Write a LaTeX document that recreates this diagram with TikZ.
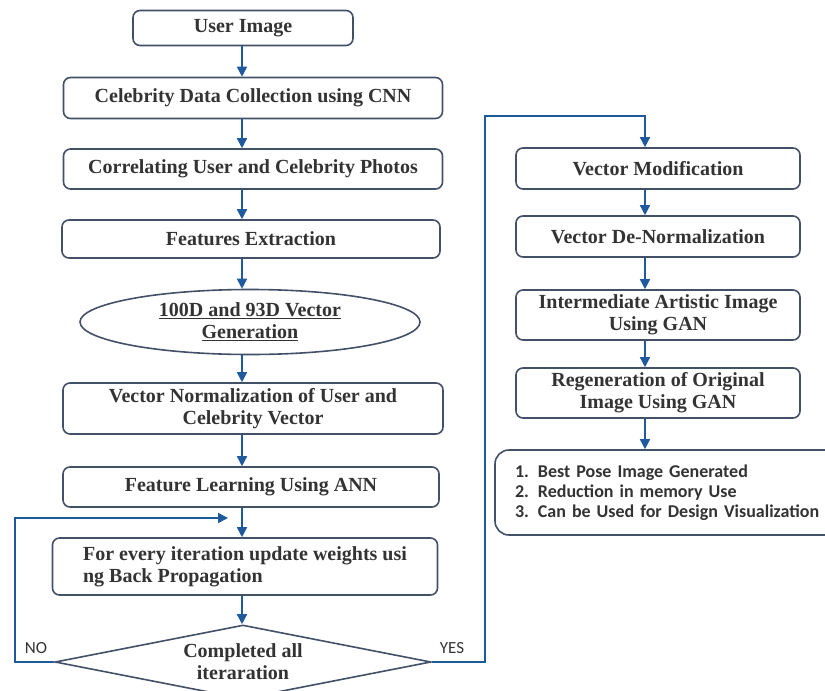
\documentclass[tikz,border=0pt]{standalone}
\usepackage{fontspec}
\setmainfont{Liberation Serif}
\newfontfamily\calibri{Carlito}
\usetikzlibrary{shapes.geometric,arrows.meta}
\definecolor{boxline}{HTML}{435168}
\definecolor{flowblue}{HTML}{1F5A9E}
\definecolor{txtgray}{HTML}{333333}
\tikzstyle{proc}=[rectangle,rounded corners=7pt,draw=boxline,line width=1.6pt,fill=white,align=center,font=\fontsize{20}{22}\selectfont\bfseries,text=txtgray,inner sep=2pt]
\tikzstyle{gen}=[ellipse,draw=boxline,line width=1.6pt,fill=white,align=center,font=\fontsize{20}{22}\selectfont\bfseries,text=txtgray,inner sep=0pt]
\tikzstyle{test}=[diamond,aspect=5,draw=boxline,line width=1.6pt,fill=white,align=center,font=\fontsize{20}{22}\selectfont\bfseries,text=txtgray,inner sep=0pt]
\tikzstyle{outbox}=[rectangle,rounded corners=14pt,draw=boxline,line width=1.6pt,fill=white,align=left,font=\calibri\bfseries\fontsize{18}{20}\selectfont,text=txtgray]
\tikzstyle{flow}=[draw=flowblue,line width=1.6pt,-{Triangle[length=10pt,width=10pt]}]
\tikzstyle{yn}=[font=\calibri\fontsize{17}{17}\selectfont,text=txtgray]

\begin{document}
\begin{tikzpicture}[x=1pt,y=-1pt]
        \useasboundingbox (0,0) rectangle (825,691);
        \coordinate (lx) at (242,0);
        \coordinate (rx) at (645,0);

        \draw (243,28)    node[proc,minimum width=220pt,minimum height=35pt](1){User Image};
        \draw (253,98)    node[proc,minimum width=379pt,minimum height=41pt](2){Celebrity Data Collection using CNN};
        \draw (253,169)   node[proc,minimum width=379pt,minimum height=40pt](3){Correlating User and Celebrity Photos};
        \draw (251,239)   node[proc,minimum width=378pt,minimum height=38pt](4){Features Extraction};
        \draw (250,322)   node[gen,minimum width=340pt,minimum height=65pt](5){\underline{100D and 93D Vector}\\\underline{Generation}};
        \draw (253,408.5) node[proc,minimum width=380pt,minimum height=51pt](6){Vector Normalization of User and\\Celebrity Vector};
        \draw (251,487)   node[proc,minimum width=376pt,minimum height=40pt](7){Feature Learning Using ANN};
        \draw (245,566.5) node[proc,minimum width=385pt,minimum height=57pt,align=left](8){For every iteration update weights usi\\ng Back Propagation};
        \draw (243,662)   node[test,minimum width=376pt,minimum height=74pt](9){Completed all\\iteraration};
        %
        \draw (658,168.5) node[proc,minimum width=284pt,minimum height=41pt](10){Vector Modification};
        \draw (658,236.5) node[proc,minimum width=284pt,minimum height=41pt](11){Vector De-Normalization};
        \draw (658,315)   node[proc,minimum width=284pt,minimum height=50pt](12){Intermediate Artistic Image\\Using GAN};
        \draw (658,393)   node[proc,minimum width=284pt,minimum height=50pt](13){Regeneration of Original\\Image Using GAN};
        \draw (680,492.5) node[outbox,minimum width=370pt,minimum height=85pt,text width=330pt](14){1. Best Pose Image Generated\\2. Reduction in memory Use\\3. Can be Used for Design Visualization};
        %
        \draw (36,648)  node[yn](no){NO};
        \draw (452,648) node[yn](yes){YES};
        \coordinate (loop) at (228,518);
        %
        \path
            (1.south -| lx)  edge[flow]  (2.north -| lx)
            (2.south -| lx)  edge[flow]  (3.north -| lx)
            (3.south -| lx)  edge[flow]  (4.north -| lx)
            (4.south -| lx)  edge[flow]  (5.north -| lx)
            (5.south -| lx)  edge[flow]  (6.north -| lx)
            (6.south -| lx)  edge[flow]  (7.north -| lx)
            (7.south -| lx)  edge[flow]  (8.north -| lx)
            (8.south -| lx)  edge[flow]  (9.north -| lx)
            (10.south -| rx) edge[flow]  (11.north -| rx)
            (11.south -| rx) edge[flow]  (12.north -| rx)
            (12.south -| rx) edge[flow]  (13.north -| rx)
            (13.south -| rx) edge[flow]  (14.north -| rx)
        ;
        \draw[flow] (9.west) -- (15,662) -- (15,518) -- (loop);
        \draw[flow] (9.east) -- (485,662) -- (485,116) -- (645,116) -- (10.north -| rx);
      \end{tikzpicture}
\end{document}
